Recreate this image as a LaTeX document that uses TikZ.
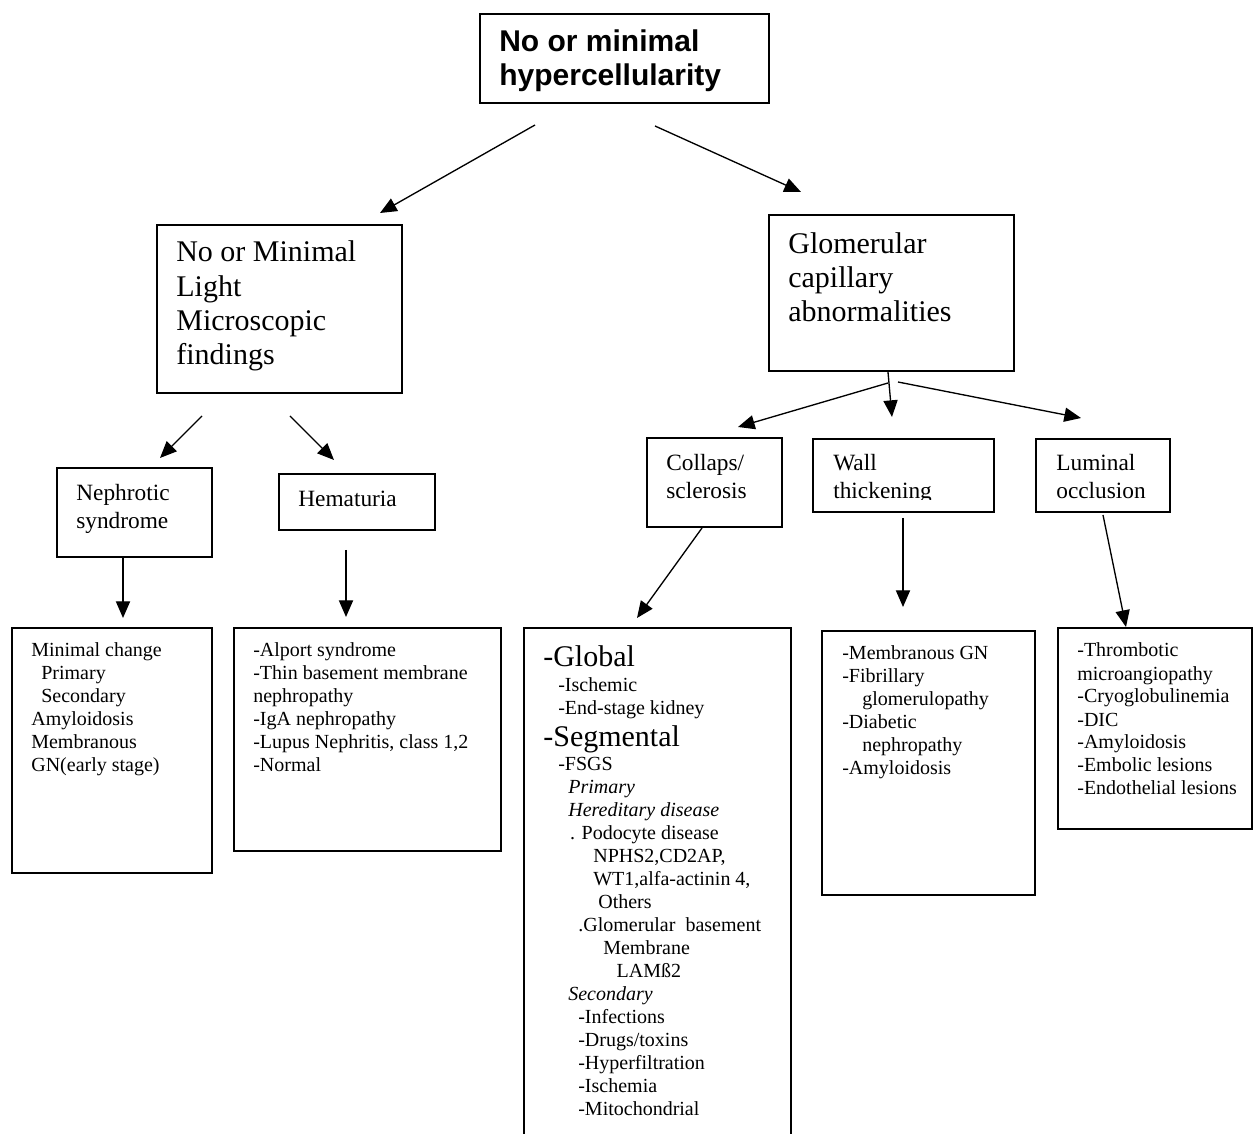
\documentclass[tikz,border=0pt]{standalone}
\usepackage{fontspec}
\setmainfont{Liberation Serif}
\newfontfamily\topfont{Liberation Sans}
\usetikzlibrary{arrows.meta,fit}
\tikzset{
  box/.style={draw, line width=0.8pt, inner sep=0pt},
  conn/.style={line width=0.8pt, -{Triangle[length=10pt,width=8.5pt]}},
  txt/.style={anchor=base west, inner sep=0pt, align=left},
  big/.style={txt, font=\fontsize{18}{20.6}\selectfont},
  mid/.style={txt, font=\fontsize{14}{16.8}\selectfont},
  small/.style={txt, font=\fontsize{12}{13.8}\selectfont},
}
\begin{document}
% text nodes are anchored at the baseline of their LAST line
\begin{tikzpicture}[x=0.6pt,y=-0.6pt]
\useasboundingbox (0,0) rectangle (1254,1134);
% boxes
\node[box, fit={(480,14) (769,103)}] (top) {};
\node[box, fit={(157,225) (402,393)}] (nomin) {};
\node[box, fit={(769,215) (1014,371)}] (glom) {};
\node[box, fit={(57,468) (212,557)}] (neph) {};
\node[box, fit={(279,474) (435,530)}] (hema) {};
\node[box, fit={(647,438) (782,527)}] (coll) {};
\node[box, fit={(813,439) (994,512)}] (wall) {};
\node[box, fit={(1036,439) (1170,512)}] (lumi) {};
\node[box, fit={(12,628) (212,873)}] (minc) {};
\node[box, fit={(234,628) (501,851)}] (alpo) {};
\node[box, fit={(524,628) (791,1145)}] (glob) {};
\node[box, fit={(822,631) (1035,895)}] (memb) {};
\node[box, fit={(1058,628) (1252,829)}] (thro) {};
% texts
\node[txt, font=\topfont\bfseries\fontsize{18}{20.4}\selectfont] (toptxt) at (499,86) {No or minimal\\hypercellularity};
\node[big] (nomintxt) at (176,365) {No or Minimal\\Light\\Microscopic\\findings};
\node[big] (glomtxt) at (788,322) {Glomerular\\capillary\\abnormalities};
\node[mid] (nephtxt) at (76,529) {Nephrotic\\syndrome};
\node[mid] (hematxt) at (298,507) {Hematuria};
\node[mid] (colltxt) at (666,499) {Collaps/\\sclerosis};
\begin{scope}
\clip (813,439) rectangle (994,500);
\node[mid] (walltxt) at (833,499) {Wall\\thickening};
\end{scope}
\node[mid] (lumitxt) at (1056,499) {Luminal\\occlusion};
\node[small] (minctxt) at (31,772) {Minimal change\\\hspace*{6pt}Primary\\\hspace*{6pt}Secondary\\Amyloidosis\\Membranous\\GN(early stage)};
\node[small] (alpotxt) at (253,772) {-Alport syndrome\\-Thin basement membrane\\nephropathy\\-IgA nephropathy\\-Lupus Nephritis, class 1,2\\-Normal};
\node[big] (globA) at (543,667) {-Global};
\node[small] (globB) at (558,715) {-Ischemic\\-End-stage kidney};
\node[big] (globC) at (543,747) {-Segmental};
\node[small] (globD) at (558,1115) {-FSGS\\
\hspace*{6pt}\textit{Primary}\\
\hspace*{6pt}\textit{Hereditary disease}\\
\hspace*{7pt}. Podocyte disease\\
\hspace*{21pt}NPHS2,CD2AP,\\
\hspace*{21pt}WT1,alfa-actinin 4,\\
\hspace*{24pt}Others\\
\hspace*{12pt}.Glomerular\ \ basement\\
\hspace*{27pt}Membrane\\
\hspace*{35pt}LAMß2\\
\hspace*{6pt}\textit{Secondary}\\
\hspace*{12pt}-Infections\\
\hspace*{12pt}-Drugs/toxins\\
\hspace*{12pt}-Hyperfiltration\\
\hspace*{12pt}-Ischemia\\
\hspace*{12pt}-Mitochondrial};
\node[small] (membtxt) at (842,775) {-Membranous GN\\-Fibrillary\\\hspace*{12pt}glomerulopathy\\-Diabetic\\\hspace*{12pt}nephropathy\\-Amyloidosis};
\node[small] (throtxt) at (1077,795) {-Thrombotic\\microangiopathy\\-Cryoglobulinemia\\-DIC\\-Amyloidosis\\-Embolic lesions\\-Endothelial lesions};
% connector end points
\coordinate (a1s) at (535,125); \coordinate (a1e) at (380,213);
\coordinate (a2s) at (655,126); \coordinate (a2e) at (801,192);
\coordinate (a3s) at (202,416); \coordinate (a3e) at (160,458);
\coordinate (a4s) at (290,416); \coordinate (a4e) at (334,460);
\coordinate (a5s) at (123,557); \coordinate (a5e) at (123,618);
\coordinate (a6s) at (346,550); \coordinate (a6e) at (346,617);
\coordinate (a7s) at (888,383); \coordinate (a7e) at (738,427);
\coordinate (a8s) at (888,372); \coordinate (a8e) at (892,417);
\coordinate (a9s) at (898,382); \coordinate (a9e) at (1081,418);
\coordinate (b1s) at (702,528); \coordinate (b1e) at (637,618);
\coordinate (b2s) at (903,518); \coordinate (b2e) at (903,607);
\coordinate (b3s) at (1103,515); \coordinate (b3e) at (1126,627);
\draw[conn] (a1s) -- (a1e);
\draw[conn] (a2s) -- (a2e);
\draw[conn] (a3s) -- (a3e);
\draw[conn] (a4s) -- (a4e);
\draw[conn] (a5s) -- (a5e);
\draw[conn] (a6s) -- (a6e);
\draw[conn] (a7s) -- (a7e);
\draw[conn] (a8s) -- (a8e);
\draw[conn] (a9s) -- (a9e);
\draw[conn] (b1s) -- (b1e);
\draw[conn] (b2s) -- (b2e);
\draw[conn] (b3s) -- (b3e);
\end{tikzpicture}
\end{document}
